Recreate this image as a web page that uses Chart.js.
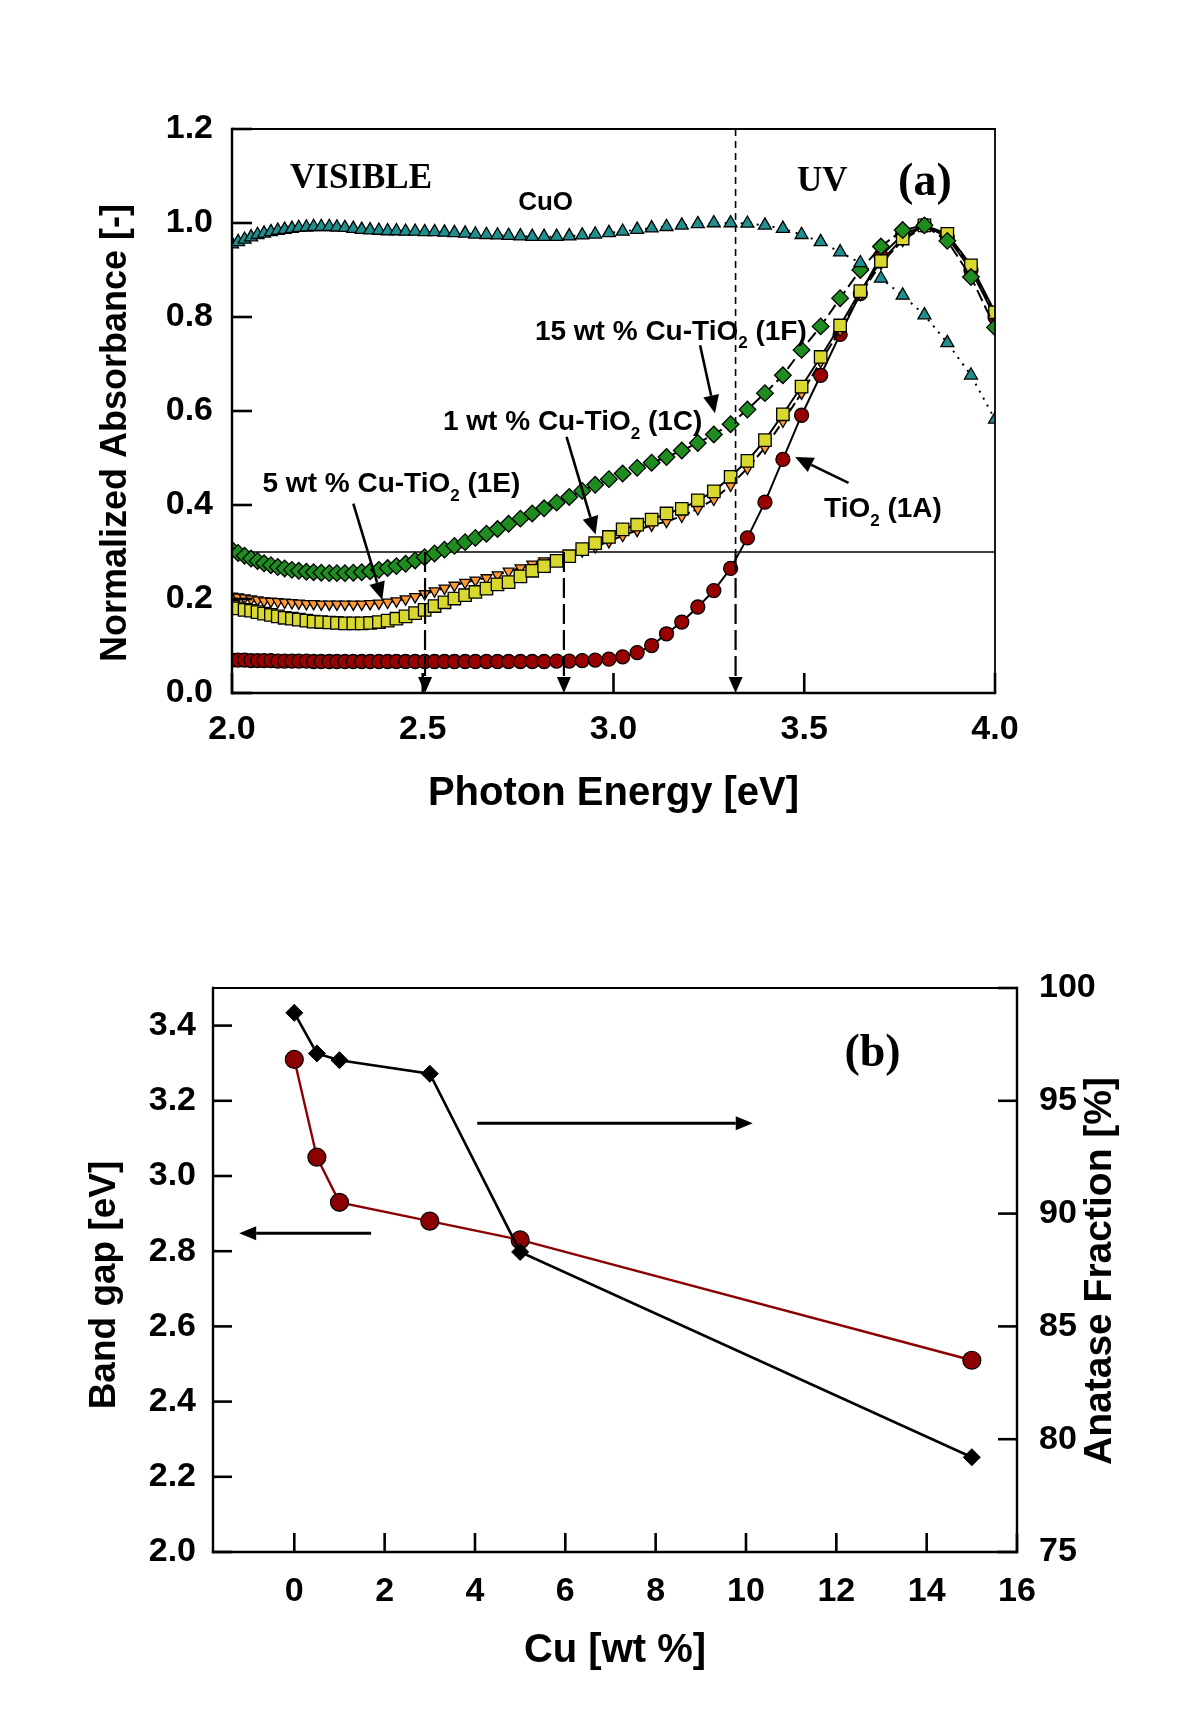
<!DOCTYPE html>
<html>
<head>
<meta charset="utf-8">
<script src="https://cdn.jsdelivr.net/npm/chart.js@4.4.1/dist/chart.umd.min.js"></script>
<style>
html, body { margin: 0; padding: 0; background: #fff; }
#wrap { position: relative; width: 1200px; height: 1730px; background: #fff; }
canvas { position: absolute; left: 0; }
#chartA { top: 0; }
#chartB { top: 860px; }
</style>
</head>
<body>
<div id="wrap">
  <canvas id="chartA" width="1200" height="860"></canvas>
  <canvas id="chartB" width="1200" height="870"></canvas>
</div>
<script>
// ---- (a) normalized absorbance vs photon energy ----
var ENERGY = [2.000,2.016,2.033,2.050,2.067,2.084,2.102,2.120,2.138,2.157,
              2.175,2.195,2.214,2.234,2.255,2.275,2.296,2.318,2.340,2.362,
              2.385,2.408,2.431,2.455,2.480,2.505,2.531,2.557,2.583,2.611,
              2.638,2.667,2.696,2.725,2.756,2.787,2.818,2.851,2.884,2.918,
              2.952,2.988,3.024,3.062,3.100,3.139,3.179,3.221,3.263,3.307,
              3.351,3.397,3.444,3.493,3.543,3.594,3.647,3.701,3.758,3.815,
              3.875,3.937,4.000];
var CUO = [0.955,0.960,0.965,0.970,0.975,0.978,0.981,0.984,0.986,0.988,
           0.990,0.991,0.992,0.992,0.992,0.991,0.990,0.988,0.986,0.985,
           0.984,0.983,0.983,0.982,0.982,0.981,0.981,0.980,0.979,0.978,
           0.976,0.975,0.974,0.973,0.972,0.971,0.971,0.971,0.972,0.974,
           0.976,0.979,0.982,0.986,0.989,0.992,0.995,0.998,1.000,1.000,
           0.999,0.995,0.988,0.975,0.960,0.938,0.915,0.882,0.846,0.804,
           0.745,0.676,0.582];
var CU15 = [0.305,0.298,0.292,0.286,0.281,0.276,0.272,0.268,0.265,0.262,
            0.260,0.258,0.257,0.256,0.255,0.255,0.255,0.256,0.257,0.259,
            0.262,0.266,0.270,0.275,0.282,0.289,0.297,0.305,0.313,0.321,
            0.330,0.339,0.349,0.360,0.371,0.382,0.393,0.405,0.417,0.430,
            0.443,0.455,0.467,0.479,0.490,0.502,0.516,0.532,0.550,0.572,
            0.603,0.638,0.676,0.730,0.780,0.840,0.900,0.950,0.985,0.995,
            0.962,0.885,0.778];
var CU1 = [0.183,0.180,0.177,0.175,0.172,0.169,0.166,0.163,0.160,0.158,
           0.156,0.154,0.152,0.151,0.150,0.149,0.148,0.148,0.148,0.149,
           0.151,0.154,0.158,0.163,0.170,0.177,0.185,0.193,0.201,0.208,
           0.215,0.222,0.231,0.236,0.248,0.260,0.270,0.281,0.291,0.306,
           0.319,0.332,0.348,0.358,0.369,0.382,0.392,0.410,0.429,0.460,
           0.494,0.538,0.593,0.652,0.715,0.782,0.855,0.919,0.967,0.995,
           0.977,0.910,0.810];
var CU5 = [0.206,0.204,0.202,0.200,0.198,0.196,0.195,0.194,0.193,0.192,
           0.191,0.190,0.190,0.189,0.189,0.189,0.189,0.189,0.189,0.190,
           0.191,0.193,0.196,0.200,0.205,0.211,0.217,0.223,0.229,0.235,
           0.240,0.245,0.251,0.259,0.266,0.274,0.281,0.288,0.295,0.302,
           0.311,0.322,0.335,0.346,0.357,0.365,0.376,0.392,0.412,0.442,
           0.478,0.522,0.578,0.638,0.705,0.772,0.848,0.914,0.963,0.993,
           0.975,0.905,0.805];
var TIO2 = [0.070,0.070,0.070,0.069,0.069,0.069,0.069,0.068,0.068,0.068,
            0.068,0.068,0.067,0.067,0.067,0.067,0.067,0.067,0.067,0.067,
            0.067,0.067,0.067,0.067,0.067,0.067,0.067,0.067,0.067,0.067,
            0.067,0.067,0.067,0.067,0.067,0.067,0.067,0.068,0.068,0.069,
            0.070,0.072,0.077,0.086,0.101,0.126,0.151,0.183,0.218,0.265,
            0.330,0.406,0.497,0.591,0.676,0.763,0.850,0.930,0.975,0.995,
            0.970,0.900,0.800];
var X_TICKS_A = [2.0, 2.5, 3.0, 3.5, 4.0];
var Y_TICKS_A = [0.0, 0.2, 0.4, 0.6, 0.8, 1.0, 1.2];
var GAP_ENERGIES = [2.506, 2.870, 3.320];

// ---- (b) band gap / anatase fraction vs Cu loading ----
var CU_WT = [0, 0.5, 1, 3, 5, 15];
var BAND_GAP = [3.31, 3.05, 2.93, 2.88, 2.83, 2.51];
var ANATASE = [98.9, 97.1, 96.8, 96.2, 88.3, 79.2];
var X_TICKS_B = [0, 2, 4, 6, 8, 10, 12, 14, 16];
var Y_TICKS_B = [2.0, 2.2, 2.4, 2.6, 2.8, 3.0, 3.2, 3.4];
var Y2_TICKS_B = [75, 80, 85, 90, 95, 100];

var SANS = '"Liberation Sans", Arial, Helvetica, sans-serif';
var SERIF = '"Liberation Serif", "Times New Roman", serif';

function pts(xs, ys) {
    return xs.map(function(x, i) { return { x: x, y: ys[i] }; });
}

function line(ctx, x1, y1, x2, y2) {
    ctx.beginPath();
    ctx.moveTo(x1, y1);
    ctx.lineTo(x2, y2);
    ctx.stroke();
}

// arrow from (x1,y1) to tip (x2,y2), in pixels
function arrow(ctx, x1, y1, x2, y2, o) {
    var ang = Math.atan2(y2 - y1, x2 - x1);
    var bx = x2 - Math.cos(ang) * o.head;
    var by = y2 - Math.sin(ang) * o.head;
    ctx.save();
    ctx.strokeStyle = '#000';
    ctx.fillStyle = '#000';
    ctx.lineWidth = o.width;
    ctx.setLineDash(o.dash || []);
    line(ctx, x1, y1, bx, by);
    ctx.setLineDash([]);
    var nx = -Math.sin(ang) * o.half, ny = Math.cos(ang) * o.half;
    ctx.beginPath();
    ctx.moveTo(x2, y2);
    ctx.lineTo(bx + nx, by + ny);
    ctx.lineTo(bx - nx, by - ny);
    ctx.closePath();
    ctx.fill();
    ctx.restore();
}

// text with subscripts: parts = [[text, isSub], ...]
function richText(ctx, parts, x, y, size) {
    var cx = x;
    parts.forEach(function(p) {
        var sub = p[1];
        ctx.font = 'bold ' + (sub ? Math.round(size * 0.62) : size) + 'px ' + SANS;
        ctx.fillText(p[0], cx, sub ? y + size * 0.3 : y);
        cx += ctx.measureText(p[0]).width;
    });
}

function rotatedTitle(ctx, text, x, y, size) {
    ctx.save();
    ctx.translate(x, y);
    ctx.rotate(-Math.PI / 2);
    ctx.font = 'bold ' + size + 'px ' + SANS;
    ctx.textAlign = 'center';
    ctx.textBaseline = 'middle';
    ctx.fillText(text, 0, 0);
    ctx.restore();
}

// frame around the plot and inward tick marks
var frameTicks = {
    id: 'frameTicks',
    afterDraw: function(chart, args, o) {
        var ctx = chart.ctx, a = chart.chartArea;
        ctx.save();
        ctx.strokeStyle = '#000';
        ctx.lineCap = 'square';
        ctx.lineWidth = o.thin;
        line(ctx, a.left, a.top, a.right, a.top);
        if (!o.rightAxis) line(ctx, a.right, a.top, a.right, a.bottom);
        ctx.lineWidth = o.thick;
        line(ctx, a.left, a.top, a.left, a.bottom);
        line(ctx, a.left, a.bottom, a.right, a.bottom);
        if (o.rightAxis) line(ctx, a.right, a.top, a.right, a.bottom);
        ctx.lineCap = 'butt';
        ctx.lineWidth = o.tickWidth;
        Object.keys(chart.scales).forEach(function(id) {
            var s = chart.scales[id];
            s.ticks.forEach(function(t) {
                var p = s.getPixelForValue(t.value);
                if (s.axis === 'x') line(ctx, p, a.bottom, p, a.bottom - o.tickLen);
                else if (s.position === 'left') line(ctx, a.left, p, a.left + o.tickLen, p);
                else line(ctx, a.right, p, a.right - o.tickLen, p);
            });
        });
        ctx.restore();
    }
};

function fixedTicks(list) {
    return function(scale) {
        scale.ticks = list.map(function(v) { return { value: v }; });
    };
}

function tickFont() {
    return { family: SANS, size: 34, weight: 'bold' };
}

// ---------------- chart (a) ----------------
var LABELS_A = [
    { parts: [['15 wt % Cu-TiO'], ['2', 1], [' (1F)']], x: 2.794, y: 0.752 },
    { parts: [['1 wt % Cu-TiO'], ['2', 1], [' (1C)']], x: 2.553, y: 0.559 },
    { parts: [['5 wt % Cu-TiO'], ['2', 1], [' (1E)']], x: 2.080, y: 0.427 },
    { parts: [['TiO'], ['2', 1], [' (1A)']], x: 3.552, y: 0.374 }
];
var ARROWS_A = [
    [3.227, 0.740, 3.266, 0.595],
    [2.877, 0.545, 2.953, 0.337],
    [2.318, 0.403, 2.394, 0.198],
    [3.616, 0.447, 3.476, 0.502]
];

var annotA = {
    id: 'annotA',
    beforeDatasetsDraw: function(chart) {
        var ctx = chart.ctx, sx = chart.scales.x, sy = chart.scales.y;
        ctx.save();
        ctx.strokeStyle = '#000';
        ctx.lineWidth = 1.6;
        line(ctx, sx.getPixelForValue(2), sy.getPixelForValue(0.3), sx.getPixelForValue(4), sy.getPixelForValue(0.3));
        ctx.restore();
    },
    afterDatasetsDraw: function(chart) {
        var ctx = chart.ctx, sx = chart.scales.x, sy = chart.scales.y;
        ctx.save();
        // short-dash boundary line above the 0.3 level
        ctx.strokeStyle = '#000';
        ctx.lineWidth = 1.6;
        ctx.setLineDash([7, 5]);
        var xv = sx.getPixelForValue(GAP_ENERGIES[2]);
        line(ctx, xv, sy.getPixelForValue(1.2), xv, sy.getPixelForValue(0.3));
        ctx.setLineDash([]);
        // dashed drop arrows to the energy axis
        GAP_ENERGIES.forEach(function(e) {
            var px = sx.getPixelForValue(e);
            arrow(ctx, px, sy.getPixelForValue(0.3), px, sy.getPixelForValue(0), { width: 2.2, head: 16, half: 7, dash: [20, 6] });
        });
        ARROWS_A.forEach(function(r) {
            arrow(ctx, sx.getPixelForValue(r[0]), sy.getPixelForValue(r[1]), sx.getPixelForValue(r[2]), sy.getPixelForValue(r[3]), { width: 2.6, head: 18, half: 8 });
        });
        ctx.fillStyle = '#000';
        ctx.textBaseline = 'alphabetic';
        ctx.textAlign = 'left';
        LABELS_A.forEach(function(l) {
            richText(ctx, l.parts, sx.getPixelForValue(l.x), sy.getPixelForValue(l.y), 28);
        });
        ctx.font = 'bold 26px ' + SANS;
        ctx.fillText('CuO', sx.getPixelForValue(2.750), sy.getPixelForValue(1.027));
        ctx.font = 'bold 35px ' + SERIF;
        ctx.fillText('VISIBLE', sx.getPixelForValue(2.152), sy.getPixelForValue(1.074));
        ctx.fillText('UV', sx.getPixelForValue(3.481), sy.getPixelForValue(1.069));
        ctx.font = 'bold 46px ' + SERIF;
        ctx.fillText('(a)', sx.getPixelForValue(3.746), sy.getPixelForValue(1.059));
        ctx.restore();
    },
    afterDraw: function(chart) {
        var ctx = chart.ctx, a = chart.chartArea;
        ctx.save();
        ctx.fillStyle = '#000';
        rotatedTitle(ctx, 'Normalized Absorbance [-]', a.left - 116, (a.top + a.bottom) / 2 + 22, 36);
        ctx.font = 'bold 40px ' + SANS;
        ctx.textAlign = 'center';
        ctx.textBaseline = 'middle';
        ctx.fillText('Photon Energy [eV]', (a.left + a.right) / 2, a.bottom + 101);
        ctx.restore();
    }
};

function seriesA(data, o) {
    return Object.assign({
        data: pts(ENERGY, data),
        showLine: true,
        borderColor: '#000',
        borderWidth: 2,
        pointBorderColor: '#000',
        pointBorderWidth: 1.3,
        tension: 0
    }, o);
}

new Chart(document.getElementById('chartA'), {
    type: 'scatter',
    data: {
        datasets: [
            seriesA(CUO, { label: 'CuO', borderDash: [2, 6], pointStyle: 'triangle', pointRadius: 7.5, pointBackgroundColor: '#1f8f8f' }),
            seriesA(CU15, { label: '15 wt % Cu-TiO2 (1F)', borderDash: [12, 5], pointStyle: 'rectRot', pointRadius: 8.3, pointBackgroundColor: '#1f8c1f' }),
            seriesA(CU1, { label: '1 wt % Cu-TiO2 (1C)', pointStyle: 'rect', pointRadius: 8.8, pointBackgroundColor: '#d8d82e' }),
            seriesA(CU5, { label: '5 wt % Cu-TiO2 (1E)', borderDash: [10, 4], pointStyle: 'triangle', pointRotation: 180, pointRadius: 6.2, pointBackgroundColor: '#ff9933' }),
            seriesA(TIO2, { label: 'TiO2 (1A)', pointStyle: 'circle', pointRadius: 7, pointBackgroundColor: '#990000' })
        ]
    },
    options: {
        responsive: false,
        animation: false,
        devicePixelRatio: 1,
        layout: { padding: { top: 129, right: 205, left: 0, bottom: 0 } },
        plugins: {
            legend: { display: false },
            tooltip: { enabled: false },
            frameTicks: { thin: 1.8, thick: 2.4, tickWidth: 2.6, tickLen: 20, rightAxis: false }
        },
        scales: {
            x: {
                type: 'linear', min: 2, max: 4,
                afterBuildTicks: fixedTicks(X_TICKS_A),
                afterFit: function(s) { s.height = 167; },
                grid: { display: false, drawTicks: false },
                border: { display: false },
                ticks: { color: '#000', font: tickFont(), padding: 16, maxRotation: 0, autoSkip: false,
                         callback: function(v) { return Number(v).toFixed(1); } }
            },
            y: {
                type: 'linear', min: 0, max: 1.2, position: 'left',
                afterBuildTicks: fixedTicks(Y_TICKS_A),
                afterFit: function(s) { s.width = 232; },
                grid: { display: false, drawTicks: false },
                border: { display: false },
                ticks: { color: '#000', font: tickFont(), padding: 19, autoSkip: false,
                         callback: function(v) { return Number(v).toFixed(1); } }
            }
        }
    },
    plugins: [annotA, frameTicks]
});

// ---------------- chart (b) ----------------
var annotB = {
    id: 'annotB',
    afterDatasetsDraw: function(chart) {
        var ctx = chart.ctx, sx = chart.scales.x, sy = chart.scales.y;
        ctx.save();
        arrow(ctx, sx.getPixelForValue(1.70), sy.getPixelForValue(2.848), sx.getPixelForValue(-1.22), sy.getPixelForValue(2.848), { width: 3, head: 17, half: 7 });
        arrow(ctx, sx.getPixelForValue(4.05), sy.getPixelForValue(3.14), sx.getPixelForValue(10.15), sy.getPixelForValue(3.14), { width: 3, head: 17, half: 7 });
        ctx.fillStyle = '#000';
        ctx.textAlign = 'left';
        ctx.textBaseline = 'alphabetic';
        ctx.font = 'bold 46px ' + SERIF;
        ctx.fillText('(b)', sx.getPixelForValue(12.18), sy.getPixelForValue(3.293));
        ctx.restore();
    },
    afterDraw: function(chart) {
        var ctx = chart.ctx, a = chart.chartArea;
        ctx.save();
        ctx.fillStyle = '#000';
        rotatedTitle(ctx, 'Band gap [eV]', a.left - 108, (a.top + a.bottom) / 2 + 15, 37);
        rotatedTitle(ctx, 'Anatase Fraction [%]', a.right + 83, (a.top + a.bottom) / 2 + 1, 39);
        ctx.font = 'bold 40px ' + SANS;
        ctx.textAlign = 'center';
        ctx.textBaseline = 'middle';
        ctx.fillText('Cu [wt %]', (a.left + a.right) / 2, a.bottom + 99);
        ctx.restore();
    }
};

new Chart(document.getElementById('chartB'), {
    type: 'scatter',
    data: {
        datasets: [
            {
                label: 'Anatase Fraction',
                data: pts(CU_WT, ANATASE),
                yAxisID: 'y2',
                showLine: true,
                borderColor: '#000',
                borderWidth: 2.6,
                pointStyle: 'rectRot',
                pointRadius: 8.5,
                pointBackgroundColor: '#000',
                pointBorderColor: '#000',
                pointBorderWidth: 1
            },
            {
                label: 'Band gap',
                data: pts(CU_WT, BAND_GAP),
                yAxisID: 'y',
                showLine: true,
                borderColor: '#8b0000',
                borderWidth: 2.4,
                pointStyle: 'circle',
                pointRadius: 9,
                pointBackgroundColor: '#8b0000',
                pointBorderColor: '#000',
                pointBorderWidth: 1.2
            }
        ]
    },
    options: {
        responsive: false,
        animation: false,
        devicePixelRatio: 1,
        layout: { padding: { top: 128, right: 0, left: 0, bottom: 0 } },
        plugins: {
            legend: { display: false },
            tooltip: { enabled: false },
            frameTicks: { thin: 1.8, thick: 2.4, tickWidth: 2.6, tickLen: 19, rightAxis: true }
        },
        scales: {
            x: {
                type: 'linear', min: -1.8, max: 16,
                afterBuildTicks: fixedTicks(X_TICKS_B),
                afterFit: function(s) { s.height = 178; },
                grid: { display: false, drawTicks: false },
                border: { display: false },
                ticks: { color: '#000', font: tickFont(), padding: 19, maxRotation: 0, autoSkip: false,
                         callback: function(v) { return String(v); } }
            },
            y: {
                type: 'linear', min: 2.0, max: 3.5, position: 'left',
                afterBuildTicks: fixedTicks(Y_TICKS_B),
                afterFit: function(s) { s.width = 213; },
                grid: { display: false, drawTicks: false },
                border: { display: false },
                ticks: { color: '#000', font: tickFont(), padding: 17, autoSkip: false,
                         callback: function(v) { return Number(v).toFixed(1); } }
            },
            y2: {
                type: 'linear', min: 75, max: 100, position: 'right',
                afterBuildTicks: fixedTicks(Y2_TICKS_B),
                afterFit: function(s) { s.width = 183; },
                grid: { display: false, drawTicks: false },
                border: { display: false },
                ticks: { color: '#000', font: tickFont(), padding: 22, autoSkip: false,
                         callback: function(v) { return String(v); } }
            }
        }
    },
    plugins: [annotB, frameTicks]
});
</script>
</body>
</html>
